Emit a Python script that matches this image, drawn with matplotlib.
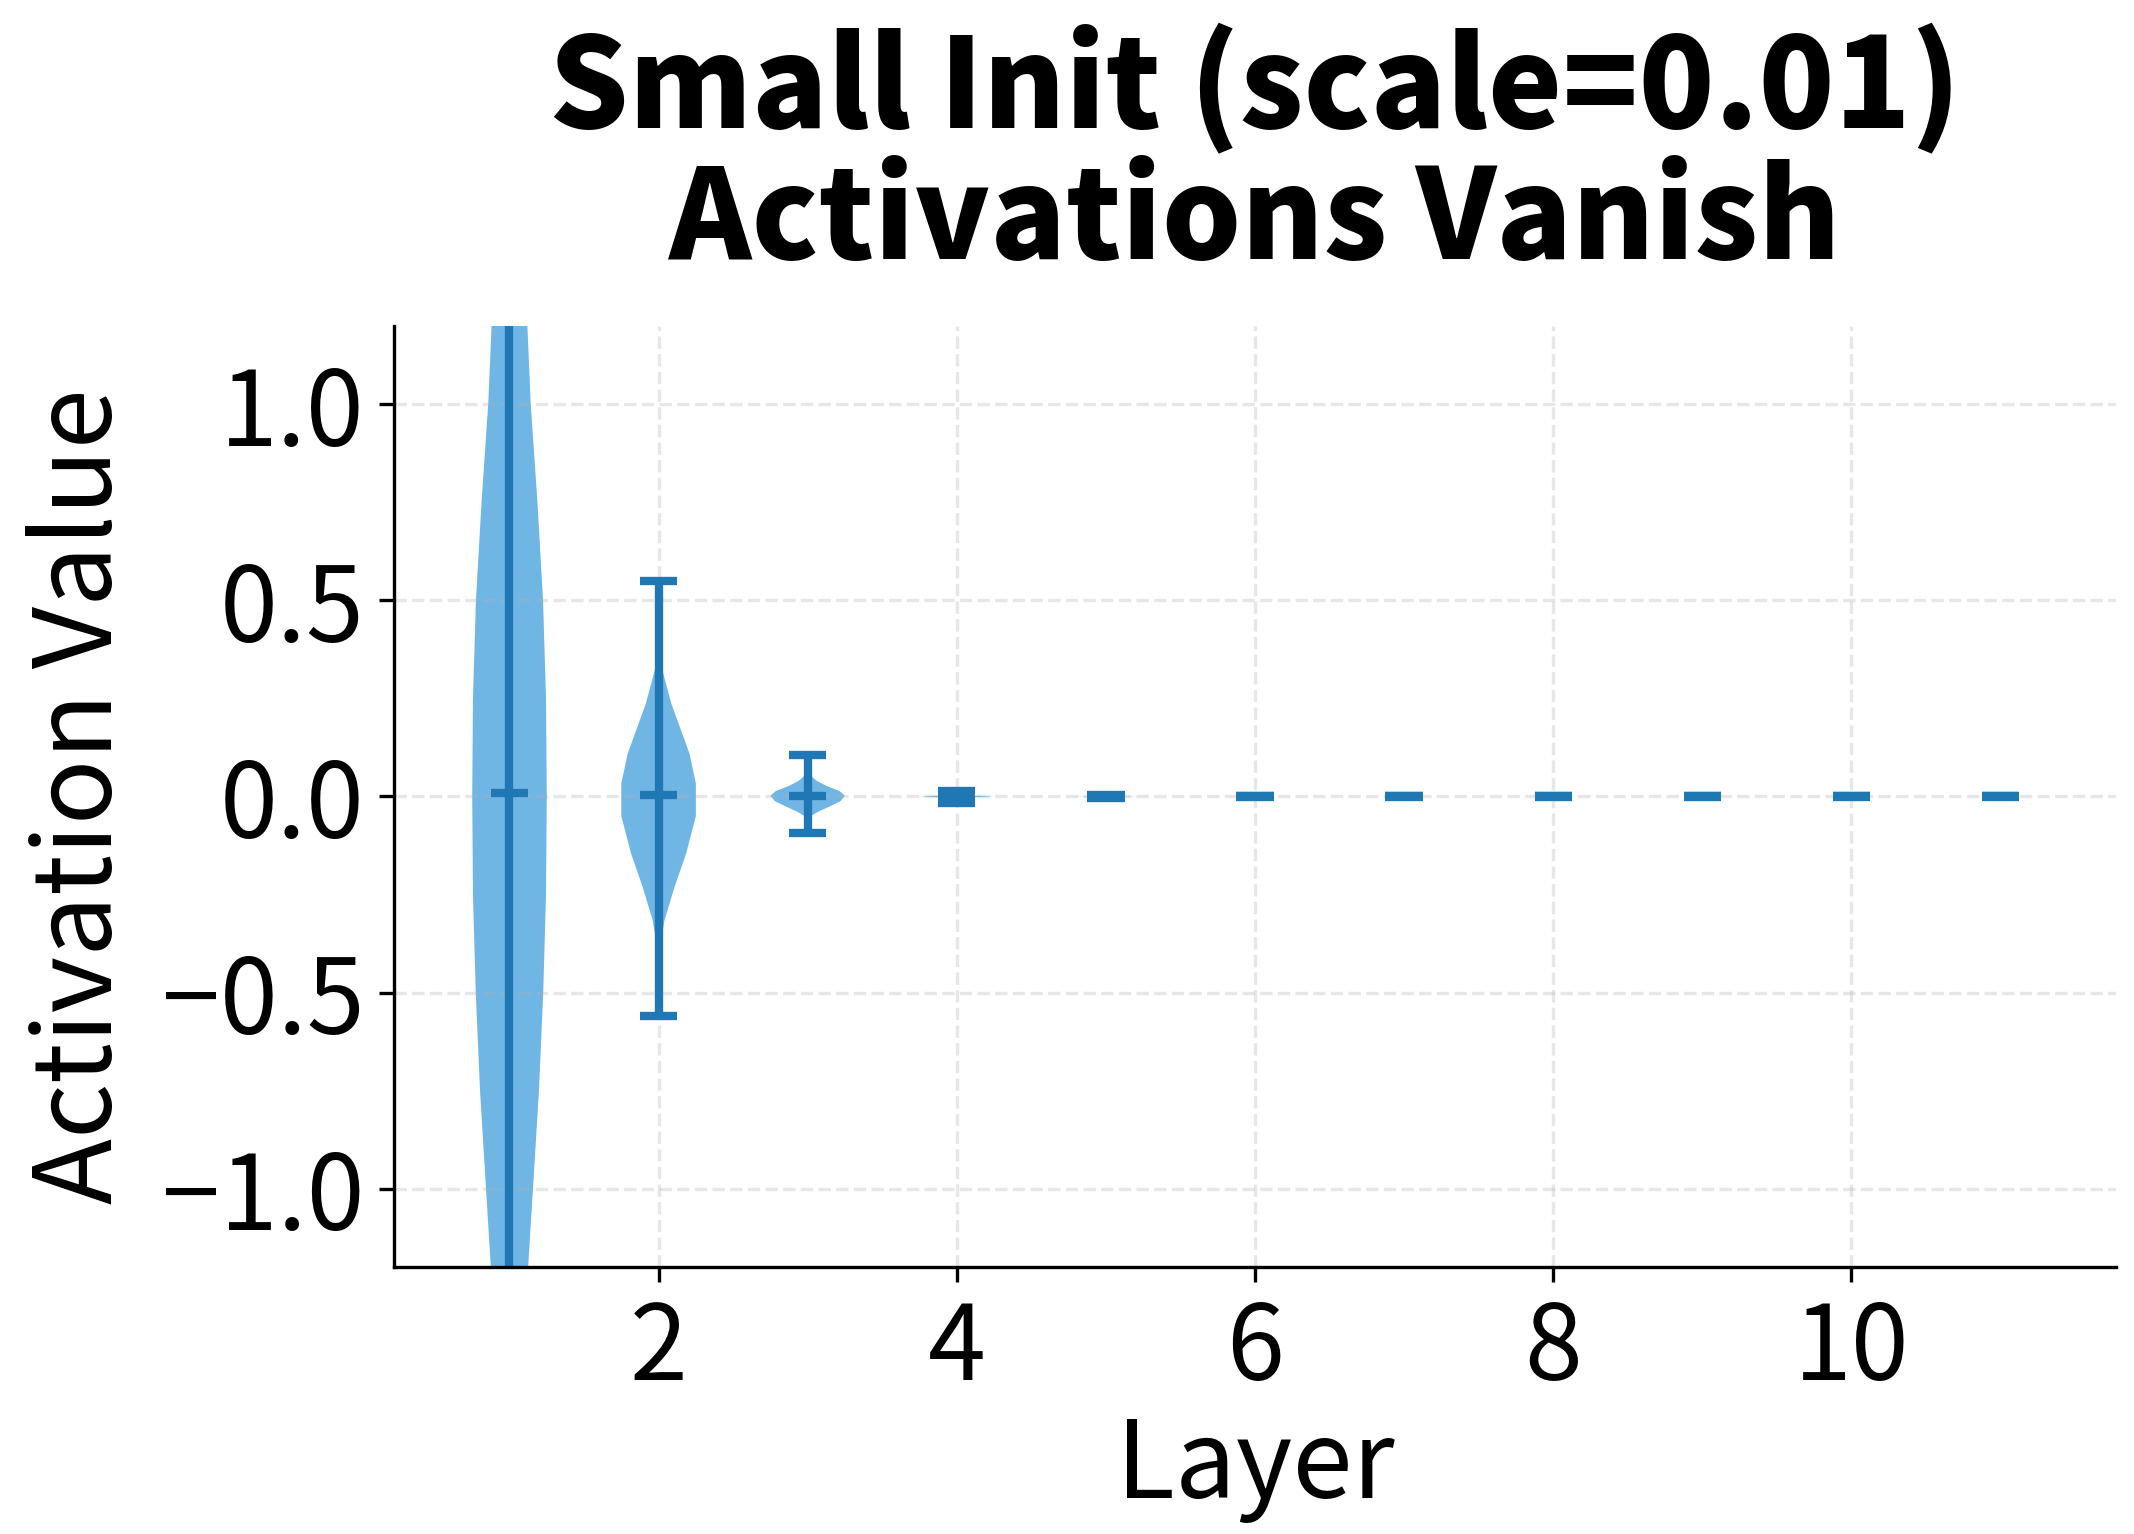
import numpy as np
import matplotlib
matplotlib.use("Agg")
import matplotlib.pyplot as plt
from matplotlib.ticker import MultipleLocator

plt.rcParams['font.family'] = ['Noto Sans CJK JP', 'DejaVu Sans']

# layers 1..11
layers = list(range(1, 12))
medians = [0.008, 0.003, 0.002, 0.0, 0.0, 0.0, 0.0, 0.0, 0.0, 0.0, 0.0]
mins = [-2.6, -0.56, -0.093, -0.016, -0.004, -0.002, -0.001, -0.001, -0.001, -0.001, -0.001]
maxs = [2.7, 0.55, 0.106, 0.015, 0.004, 0.002, 0.001, 0.001, 0.001, 0.001, 0.001]

# density profile (relative to the widest point)
l1_y = [-2.6, -2.2, -1.8, -1.5, -1.2, -1.0, -0.75, -0.5, -0.25, 0.0, 0.25, 0.5, 0.75, 1.0, 1.2, 1.5, 1.8, 2.2, 2.7]
l1_d = [0.02, 0.09, 0.21, 0.34, 0.50, 0.63, 0.79, 0.905, 0.98, 1.0, 0.98, 0.90, 0.75, 0.57, 0.48, 0.33, 0.20, 0.08, 0.02]
l2_y = [-0.56, -0.45, -0.36, -0.315, -0.23, -0.145, -0.05, 0.033, 0.109, 0.237, 0.33, 0.45, 0.55]
l2_d = [0.0, 0.01, 0.08, 0.16, 0.43, 0.74, 1.0, 1.0, 0.83, 0.34, 0.08, 0.01, 0.0]
l3_y = [-0.093, -0.065, -0.05, -0.038, -0.025, -0.012, 0.002, 0.014, 0.027, 0.04, 0.053, 0.07, 0.106]
l3_d = [0.0, 0.01, 0.08, 0.3, 0.6, 0.88, 1.0, 0.85, 0.5, 0.24, 0.08, 0.01, 0.0]
l4_y = [-0.016, -0.008, -0.004, -0.002, 0.0, 0.002, 0.004, 0.008, 0.015]
l4_d = [0.0, 0.003, 0.05, 0.45, 1.0, 0.45, 0.05, 0.003, 0.0]
l5_y = [-0.004, -0.0015, -0.0005, 0.0, 0.0005, 0.0015, 0.004]
l5_d = [0.0, 0.02, 0.3, 1.0, 0.3, 0.02, 0.0]
tiny_y = [-0.0001, 0.0, 0.0001]
tiny_d = [0.0, 1.0, 0.0]

profiles = [(l1_y, l1_d), (l2_y, l2_d), (l3_y, l3_d), (l4_y, l4_d), (l5_y, l5_d)] + [(tiny_y, tiny_d)] * 6

vpstats = []
for (py, pd_), med, lo, hi in zip(profiles, medians, mins, maxs):
    vpstats.append(dict(coords=np.array(py), vals=np.array(pd_), mean=med,
                        median=med, min=lo, max=hi))

fig = plt.figure(figsize=(2134 / 300, 1534 / 300), dpi=300)
ax = fig.add_axes([0.1846, 0.1738, 0.807, 0.614])

parts = ax.violin(vpstats, positions=layers, widths=0.5,
                  showmeans=False, showextrema=True, showmedians=True)
for pc in parts['bodies']:
    pc.set_facecolor('#3498db')
    pc.set_edgecolor('none')
    pc.set_alpha(0.7)
for key in ['cbars', 'cmins', 'cmaxes', 'cmedians']:
    parts[key].set_color('#1f77b4')
    parts[key].set_linewidth(2)

ax.set_ylim(-1.2, 1.2)
ax.xaxis.set_major_locator(MultipleLocator(2))
ax.yaxis.set_major_locator(MultipleLocator(0.5))
ax.set_xlabel('Layer', fontsize=26, labelpad=2)
ax.set_ylabel('Activation Value', fontsize=26, labelpad=6)
ax.set_title('Small Init (scale=0.01)\nActivations Vanish', fontsize=30,
             fontweight='black', pad=16, linespacing=1.06)
ax.tick_params(labelsize=25)
ax.grid(True, linestyle='--', alpha=0.3)
ax.spines['top'].set_visible(False)
ax.spines['right'].set_visible(False)

fig.savefig('out.png', dpi=300)
